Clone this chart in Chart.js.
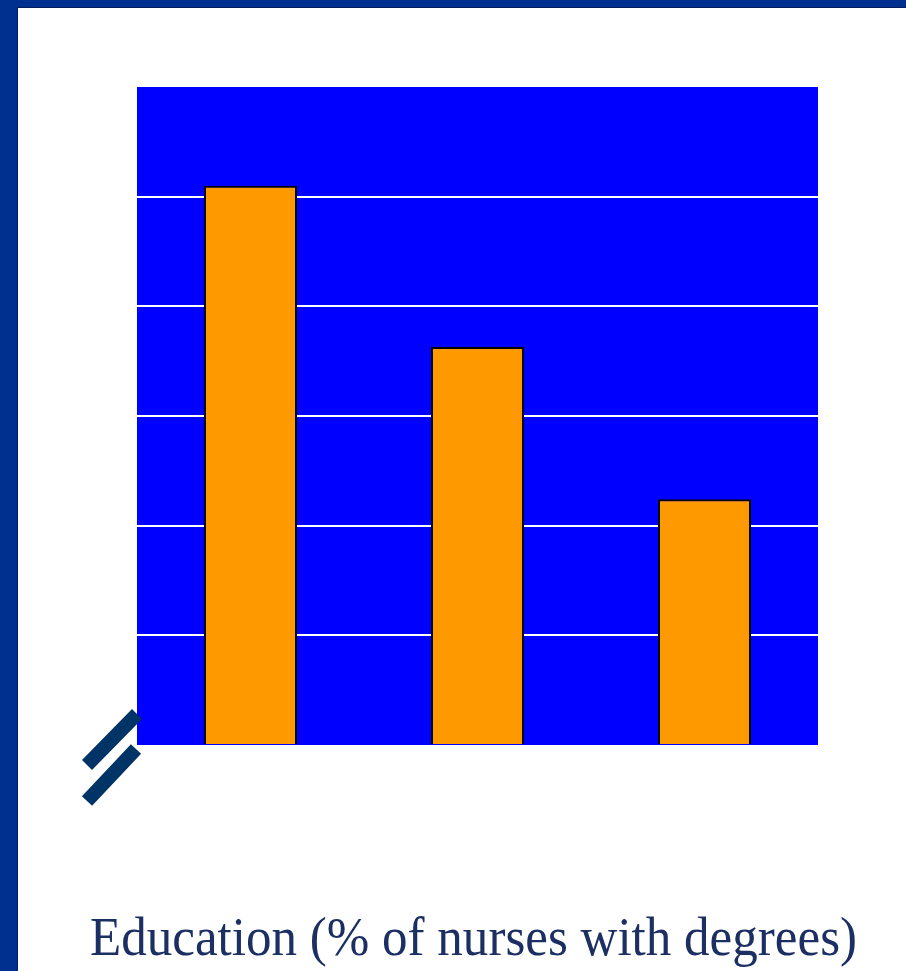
<!DOCTYPE html>
<html>
<head>
<meta charset="utf-8">
<script src="https://cdn.jsdelivr.net/npm/chart.js@4/dist/chart.umd.min.js"></script>
<style>
  html, body { margin: 0; padding: 0; background: #00308F; }
  #frame { position: absolute; left: 0; top: 0; width: 906px; height: 971px; background: #00308F; overflow: hidden; }
  #inner { position: absolute; left: 18px; top: 8px; width: 888px; height: 963px; background: #ffffff; box-shadow: -1px -1px 0 #001c5e; }
  canvas { display: block; }
</style>
</head>
<body>
<div id="frame"><div id="inner"><canvas id="c" width="888" height="963"></canvas></div></div>
<script>
// Data (hidden scale 0..60, 6 gridline bands)
const categories = ['Group 1', 'Group 2', 'Group 3'];
const degreeValues = [51.0, 36.3, 22.4];
const axisMin = 0;
const axisMax = 60;
const axisStep = 10;
const titleText = 'Education (% of nurses with degrees)';

const plotBackground = {
  id: 'plotBackground',
  beforeDraw(chart) {
    const { ctx, chartArea: a } = chart;
    ctx.save();
    ctx.fillStyle = '#0000FF';
    ctx.fillRect(a.left, a.top, a.right - a.left, a.bottom - a.top);
    ctx.restore();
  }
};

const breakMark = {
  id: 'breakMark',
  afterDraw(chart) {
    const { ctx, chartArea: a } = chart;
    ctx.save();
    ctx.strokeStyle = '#003366';
    ctx.lineWidth = 14;
    ctx.lineCap = 'butt';
    ctx.beginPath();
    ctx.moveTo(a.left - 50, a.bottom + 20);
    ctx.lineTo(a.left, a.bottom - 31);
    ctx.moveTo(a.left - 50, a.bottom + 56);
    ctx.lineTo(a.left - 1, a.bottom + 4);
    ctx.stroke();
    ctx.restore();
  }
};

const bottomTitle = {
  id: 'bottomTitle',
  afterDraw(chart) {
    const { ctx, chartArea: a } = chart;
    ctx.save();
    ctx.fillStyle = '#1b2f63';
    ctx.font = '54px "Liberation Serif", "Times New Roman", serif';
    ctx.textAlign = 'center';
    ctx.textBaseline = 'alphabetic';
    ctx.fillText(titleText, (a.left + a.right) / 2 - 4, a.bottom + 210, 767);
    ctx.restore();
  }
};

new Chart(document.getElementById('c'), {
  type: 'bar',
  data: {
    labels: categories,
    datasets: [{
      data: degreeValues,
      backgroundColor: '#FF9900',
      borderColor: '#000000',
      borderWidth: 2,
      barPercentage: 0.41,
      categoryPercentage: 1.0
    }]
  },
  options: {
    responsive: false,
    animation: false,
    devicePixelRatio: 1,
    layout: { padding: { left: 119, right: 88, top: 79, bottom: 226 } },
    plugins: {
      legend: { display: false },
      tooltip: { enabled: false },
      title: { display: false }
    },
    scales: {
      x: { display: false },
      y: {
        min: axisMin,
        max: axisMax,
        ticks: { display: false, stepSize: axisStep },
        border: { display: false },
        grid: {
          drawTicks: false,
          lineWidth: 2,
          color: (c) => (c.tick && (c.tick.value === axisMin || c.tick.value === axisMax)) ? 'rgba(0,0,0,0)' : '#ffffff'
        }
      }
    }
  },
  plugins: [plotBackground, breakMark, bottomTitle]
});
</script>
</body>
</html>
